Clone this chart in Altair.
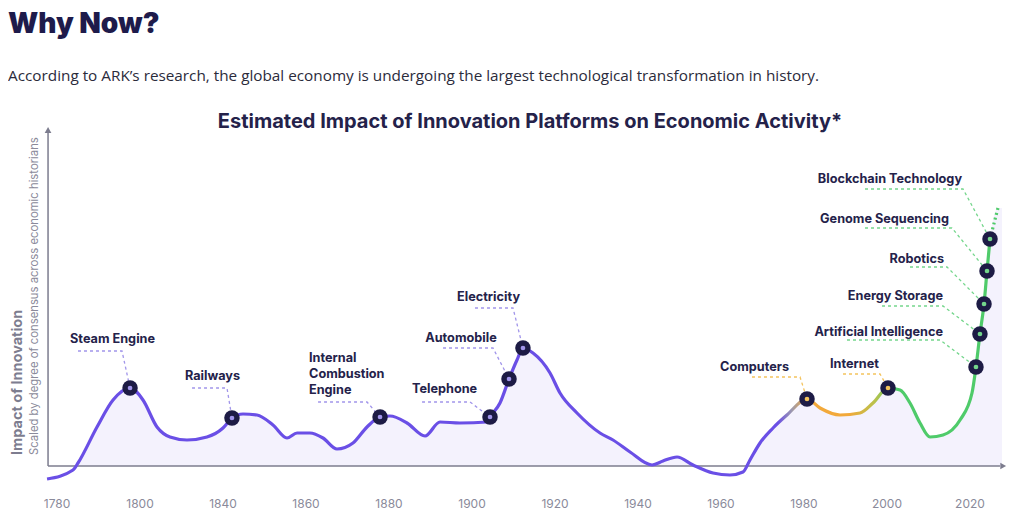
import altair as alt
import pandas as pd

# ---------------- data ----------------
# x is measured in axis-tick steps (0 = "1780" tick, 1 = "1800" tick, ...),
# y is the relative impact of innovation (0 = axis baseline)
tick_labels = ["1780", "1800", "1840", "1860", "1880", "1900",
               "1920", "1940", "1960", "1980", "2000", "2020"]

curve_x = [-0.120, 0.193, 0.253, 0.482, 0.675, 0.880, 1.036, 1.205, 1.361, 1.566,
           1.807, 2.000, 2.108, 2.241, 2.410, 2.602, 2.771, 2.892, 3.048, 3.205,
           3.373, 3.566, 3.735, 3.892, 4.012, 4.217, 4.434, 4.614, 4.855, 5.181,
           5.217, 5.337, 5.446, 5.542, 5.614, 5.735, 5.940, 6.060, 6.265, 6.542,
           6.699, 6.904, 7.169, 7.301, 7.470, 7.663, 7.904, 8.108, 8.265, 8.349,
           8.470, 8.627, 8.795, 9.036, 9.193, 9.434, 9.675, 9.831, 10.012, 10.157,
           10.277, 10.398, 10.518, 10.675, 10.880, 11.024, 11.072, 11.120, 11.169, 11.205,
           11.241]
curve_y = [-13, -4, 3, 39, 66, 78, 66, 39, 29, 26,
           29, 38, 48, 52, 51, 41, 28, 33, 33, 28,
           17, 23, 39, 49, 50, 43, 30, 44, 43, 44,
           49, 63, 87, 106, 118, 113, 93, 73, 53, 33,
           26, 14, 1, 5, 9, 1, -7, -9, -6, 6,
           23, 38, 51, 67, 58, 51, 53, 63, 78, 76,
           63, 43, 29, 31, 46, 73, 99, 132, 162, 195,
           227]

# projected continuation (dotted)
future_x = [11.241, 11.337]
future_y = [227, 258]
shade_end_x = 11.386

platforms = ["Steam Engine", "Railways", "Internal Combustion Engine", "Telephone",
             "Automobile", "Electricity", "Computers", "Internet",
             "Artificial Intelligence", "Energy Storage", "Robotics",
             "Genome Sequencing", "Blockchain Technology"]
platform_x = [0.880, 2.108, 3.892, 5.217, 5.446, 5.614, 9.036, 10.012,
              11.072, 11.120, 11.169, 11.205, 11.241]
platform_y = [78, 48, 49, 49, 87, 118, 67, 78, 99, 132, 162, 195, 227]
platform_era = ["early"] * 6 + ["digital"] * 2 + ["new"] * 5

label_lines = [["Steam Engine"], ["Railways"], ["Internal", "Combustion", "Engine"],
               ["Telephone"], ["Automobile"], ["Electricity"], ["Computers"], ["Internet"],
               ["Artificial Intelligence"], ["Energy Storage"], ["Robotics"],
               ["Genome Sequencing"], ["Blockchain Technology"]]
label_x = [0.669, 1.873, 3.036, 4.669, 4.867, 5.199, 8.404, 9.608,
           10.675, 10.675, 10.687, 10.747, 10.904]
label_y = [127, 90, 108, 77, 128, 169, 99, 102, 134, 170, 207, 247, 287]
label_align = ["center", "center", "left", "center", "center", "center", "center", "center",
               "right", "right", "right", "right", "right"]

leader_x0 = [0.253, 1.627, 3.145, 4.398, 4.651, 5.036, 8.373, 9.470,
             9.518, 9.940, 10.277, 9.735, 9.735]
leader_x1 = [0.783, 2.048, 3.735, 4.976, 5.253, 5.494, 8.952, 9.916,
             10.639, 10.675, 10.723, 10.783, 10.916]
leader_y = [115, 78, 64, 64, 118, 158, 89, 92, 126, 160, 199, 238, 277]

# ---------------- styles ----------------
PURPLE = "#6a4fe6"
ORANGE = "#f2a93b"
GREEN = "#4fcb6a"
NAVY = "#1d1b45"
AXIS = "#7c7c8e"
FONT = "Inter"
LINE_H = 16

era_scale = alt.Scale(domain=["early", "digital", "new"], range=[PURPLE, ORANGE, GREEN])
leader_scale = alt.Scale(domain=["early", "digital", "new"], range=["#a195ea", "#f4c35c", "#74d68c"])

xs = alt.Scale(domain=[-0.5904, 11.5542], nice=False, zero=False)
ys = alt.Scale(domain=[-44, 458], nice=False, zero=False)


def X(f="x"):
    return alt.X(f"{f}:Q", scale=xs, axis=None)


def Y(f="y"):
    return alt.Y(f"{f}:Q", scale=ys, axis=None)


curve = pd.DataFrame({"x": curve_x, "y": curve_y})
shade = pd.DataFrame({"x": curve_x + future_x[1:] + [shade_end_x],
                      "y": curve_y + future_y[1:] + [future_y[-1]]})
shade["y"] = shade["y"].clip(lower=0)
future = pd.DataFrame({"x": future_x, "y": future_y})
pts = pd.DataFrame({"name": platforms, "x": platform_x, "y": platform_y, "era": platform_era})

lab_rows = []
for name, lines, lx, ly, al, era in zip(platforms, label_lines, label_x, label_y, label_align, platform_era):
    for i, line in enumerate(lines):
        lab_rows.append(dict(name=name, text=line, x=lx, y=ly - i * LINE_H, align=al, era=era))
labels = pd.DataFrame(lab_rows)

lead_rows = []
for name, x0, x1, ly, px, py, era in zip(platforms, leader_x0, leader_x1, leader_y,
                                          platform_x, platform_y, platform_era):
    lead_rows += [dict(name=name, x=x0, y=ly, o=0, era=era),
                  dict(name=name, x=x1, y=ly, o=1, era=era),
                  dict(name=name, x=px, y=py, o=2, era=era)]
leaders = pd.DataFrame(lead_rows)

ticks = pd.DataFrame({"x": list(range(len(tick_labels))), "label": tick_labels, "y": -38})

axis_lines = pd.DataFrame({"x": [-0.108, -0.108], "x2": [11.361, -0.108],
                           "y": [0, 0], "y2": [0, 333]})
arrows_up = pd.DataFrame({"x": [-0.108], "y": [336]})
arrows_right = pd.DataFrame({"x": [11.40], "y": [0]})

one = pd.DataFrame({"a": [0]})

# ---------------- layers ----------------
area = alt.Chart(shade).mark_area(color="#f4f2fd", interpolate="monotone").encode(
    x=X(), y=Y(), y2=alt.datum(0))

axes = alt.Chart(axis_lines).mark_rule(color=AXIS, strokeWidth=1.5).encode(
    x=X(), x2="x2:Q", y=Y(), y2="y2:Q")
arr_up = alt.Chart(arrows_up).mark_point(shape="triangle-up", filled=True, size=45,
                                         color=AXIS, opacity=1).encode(x=X(), y=Y())
arr_right = alt.Chart(arrows_right).mark_point(shape="triangle-right", filled=True, size=45,
                                               color=AXIS, opacity=1).encode(x=X(), y=Y())

grad = alt.Gradient(
    gradient="linear", x1=0, x2=1, y1=0, y2=0,
    stops=[alt.GradientStop(color=PURPLE, offset=0),
           alt.GradientStop(color=PURPLE, offset=0.775),
           alt.GradientStop(color="#9d9aae", offset=0.79),
           alt.GradientStop(color=ORANGE, offset=0.805),
           alt.GradientStop(color=ORANGE, offset=0.85),
           alt.GradientStop(color="#b9c24c", offset=0.878),
           alt.GradientStop(color=GREEN, offset=0.9),
           alt.GradientStop(color=GREEN, offset=1)])
line = alt.Chart(curve).mark_line(stroke=grad, strokeWidth=3.2, interpolate="monotone").encode(
    x=X(), y=Y())

fut = alt.Chart(future).mark_line(color=GREEN, strokeWidth=3.2, strokeDash=[2, 3]).encode(
    x=X(), y=Y())

lead = alt.Chart(leaders).mark_line(strokeWidth=1.3, strokeDash=[3, 3]).encode(
    x=X(), y=Y(), detail="name:N", order="o:Q",
    color=alt.Color("era:N", scale=leader_scale, legend=None))

dots = alt.Chart(pts).mark_point(shape="circle", filled=True, size=240, color=NAVY,
                                 opacity=1).encode(x=X(), y=Y())
inner = alt.Chart(pts).mark_point(shape="circle", filled=True, size=22, opacity=1).encode(
    x=X(), y=Y(), color=alt.Color("era:N", scale=era_scale, legend=None))

txt_layers = []
for al in ["left", "center", "right"]:
    txt_layers.append(
        alt.Chart(labels).transform_filter(alt.datum.align == al).mark_text(
            align=al, baseline="middle", font=FONT, fontSize=12.7, fontWeight="bold",
            color="#24224a").encode(x=X(), y=Y(), text="text:N"))

tick_txt = alt.Chart(ticks).mark_text(font=FONT, fontSize=12, color="#8a8a9a",
                                      baseline="middle").encode(x=X(), y=Y(), text="label:N")

head = alt.Chart(one).mark_text(text="Why Now?", align="left", baseline="top", font=FONT,
                                fontSize=28, fontWeight=900, color="#1e1b4b").encode(
    x=alt.value(0), y=alt.value(3))
sub = alt.Chart(one).mark_text(
    text="According to ARK\u2019s research, the global economy is undergoing the largest technological transformation in history.",
    align="left", baseline="middle", font="Open Sans", fontSize=15.3, color="#2b2b3b").encode(
    x=alt.value(0), y=alt.value(68))
ctitle = alt.Chart(one).mark_text(
    text="Estimated Impact of Innovation Platforms on Economic Activity*",
    align="center", baseline="middle", font=FONT, fontSize=20, fontWeight="bold",
    color="#24224a").encode(x=alt.value(522), y=alt.value(114))
ytitle1 = alt.Chart(one).mark_text(text="Impact of Innovation", angle=270, align="left",
                                   baseline="middle", font=FONT, fontSize=14.5, fontWeight="bold",
                                   color="#7d7d8f").encode(x=alt.value(10), y=alt.value(447))
ytitle2 = alt.Chart(one).mark_text(
    text="Scaled by degree of consensus across economic historians", angle=270, align="left",
    baseline="middle", font=FONT, fontSize=11.3, color="#8a8a9a").encode(
    x=alt.value(27), y=alt.value(447))

chart = alt.layer(area, axes, arr_up, arr_right, lead, line, fut, dots, inner,
                  *txt_layers, tick_txt, head, sub, ctitle, ytitle1, ytitle2).properties(
    width=1008, height=502, padding=0, autosize=alt.AutoSizeParams(type="none"),
    background="white"
).configure_view(stroke=None)

chart.save("out.html", embed_options={"renderer": "svg", "actions": False})
